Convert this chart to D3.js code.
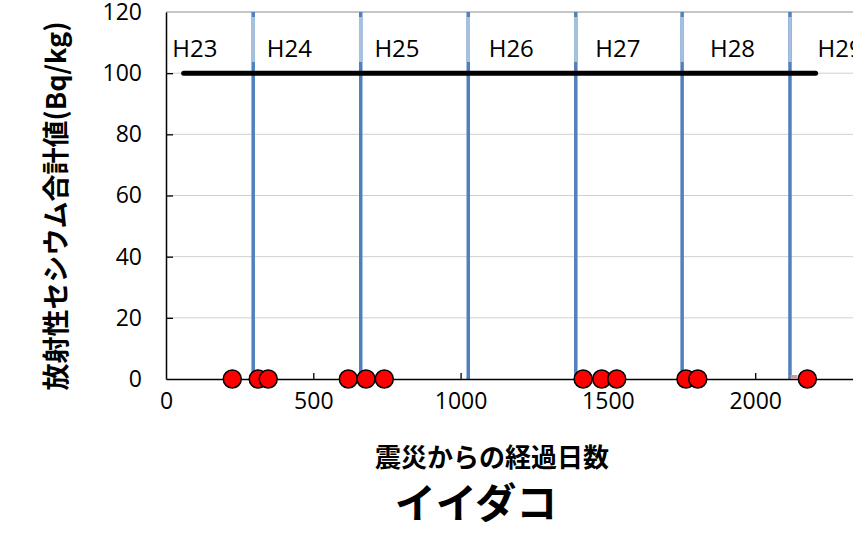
<!DOCTYPE html>
<html>
<head>
<meta charset="utf-8">
<script src="https://cdn.jsdelivr.net/npm/d3@7"></script>
<style>
  body { margin: 0; background: #fff; }
  svg { display: block; }
</style>
</head>
<body>
<div id="main"></div>
<script>
// days since the disaster for each sample, all values were 0 (ND)
const sampleDays = [225, 313, 347, 619, 679, 741, 1416, 1479, 1530, 1765, 1805, 2177];
const sampleValues = [0, 0, 0, 0, 0, 0, 0, 0, 0, 0, 0, 0];

// fiscal year boundaries and year labels
const yearLines = [296, 661, 1026, 1391, 1752, 2118];
const yearNames = ['H23', 'H24', 'H25', 'H26', 'H27', 'H28', 'H29'];
const yearLabelDays = [98, 419, 784, 1172, 1534, 1923, 2288];

// standard limit line (100 Bq/kg)
const limitDays = [60, 2205];
const limitValue = 100;

// small extra marker near the last boundary
const extraDays = [2130];
const extraValues = [0];

const xTicks = [0, 500, 1000, 1500, 2000];
const yTicks = [0, 20, 40, 60, 80, 100, 120];

const w = 853;
const h = 546;

const xScale = d3.scaleLinear().
domain([0, 2500]).
range([166, 902.5]);

const yScale = d3.scaleLinear().
domain([0, 120]).
range([379, 12]);

const svg = d3.select('#main').
append('svg').
attr('width', w).
attr('height', h);

const numFont = '"Open Sans", sans-serif';
const jpFont = '"Noto Sans CJK JP", sans-serif';

// gridlines
svg.append('g').
selectAll('line').
data(yTicks.filter(d => d > 0)).
enter().
append('line').
attr('x1', xScale(0)).
attr('x2', w).
attr('y1', d => yScale(d)).
attr('y2', d => yScale(d)).
attr('stroke', d => d === 120 ? '#8c8c8c' : '#d0d0d0').
attr('stroke-width', 1);

// year boundary lines
const yl = svg.append('g');
yl.selectAll('line.dark').
data(yearLines).
enter().
append('line').
attr('class', 'dark').
attr('x1', d => xScale(d)).
attr('x2', d => xScale(d)).
attr('y1', yScale(120)).
attr('y2', yScale(0)).
attr('stroke', '#4f81bd').
attr('stroke-width', 3.5);

yl.selectAll('line.light').
data(yearLines).
enter().
append('line').
attr('class', 'light').
attr('x1', d => xScale(d)).
attr('x2', d => xScale(d)).
attr('y1', 17).
attr('y2', 62).
attr('stroke', '#a7c0de').
attr('stroke-width', 3.5);

// year labels
svg.append('g').
selectAll('text').
data(yearNames).
enter().
append('text').
attr('x', (d, i) => xScale(yearLabelDays[i])).
attr('y', 47).
attr('text-anchor', 'middle').
attr('dominant-baseline', 'central').
attr('font-family', numFont).
attr('font-size', '24px').
attr('fill', '#000').
text(d => d);

// limit line
svg.append('line').
attr('x1', xScale(limitDays[0])).
attr('x2', xScale(limitDays[1])).
attr('y1', yScale(limitValue)).
attr('y2', yScale(limitValue)).
attr('stroke', '#000').
attr('stroke-width', 5).
attr('stroke-linecap', 'round');

// axes
const xAxis = d3.axisBottom(xScale).
tickValues(xTicks).
tickFormat(d3.format('d')).
tickSizeInner(-6).
tickSizeOuter(0).
tickPadding(14);

const yAxis = d3.axisLeft(yScale).
tickValues(yTicks).
tickFormat(d3.format('d')).
tickSizeInner(-7).
tickSizeOuter(0).
tickPadding(24);

const gx = svg.append('g').
attr('transform', `translate(0,${yScale(0)})`).
call(xAxis);

const gy = svg.append('g').
attr('transform', `translate(${xScale(0)},0)`).
call(yAxis);

[gx, gy].forEach(g => {
  g.select('.domain').attr('stroke', '#000').attr('stroke-width', 1.5);
  g.selectAll('.tick line').attr('stroke', '#000').attr('stroke-width', 1.3);
  g.selectAll('.tick text').
  attr('font-family', numFont).
  attr('font-size', '23px').
  attr('fill', '#000');
});
gx.selectAll('.tick text').attr('dy', '0.71em');
gx.selectAll('.tick line').filter(d => d === 0).remove();
gy.selectAll('.tick line').filter(d => d === 0 || d === 120).remove();

// extra small marker
svg.append('g').
selectAll('rect').
data(extraDays).
enter().
append('rect').
attr('x', d => xScale(d) - 3).
attr('y', (d, i) => yScale(extraValues[i]) - 4).
attr('width', 7).
attr('height', 4).
attr('fill', '#d29a9a');

// sample points
svg.append('g').
selectAll('circle').
data(sampleDays).
enter().
append('circle').
attr('cx', d => xScale(d)).
attr('cy', (d, i) => yScale(sampleValues[i])).
attr('r', 9).
attr('fill', '#ff0000').
attr('stroke', '#000').
attr('stroke-width', 1.5);

// titles
svg.append('text').
attr('transform', 'translate(54,206) rotate(-90)').
attr('text-anchor', 'middle').
attr('dominant-baseline', 'central').
attr('font-family', jpFont).
attr('font-weight', 'bold').
attr('font-size', '27px').
text('放射性セシウム合計値(Bq/kg)');

svg.append('text').
attr('x', 492).
attr('y', 455).
attr('text-anchor', 'middle').
attr('dominant-baseline', 'central').
attr('font-family', jpFont).
attr('font-weight', 'bold').
attr('font-size', '26px').
text('震災からの経過日数');

svg.append('text').
attr('x', 476).
attr('y', 500).
attr('text-anchor', 'middle').
attr('dominant-baseline', 'central').
attr('font-family', jpFont).
attr('font-weight', 'bold').
attr('font-size', '41px').
text('イイダコ');
</script>
</body>
</html>
